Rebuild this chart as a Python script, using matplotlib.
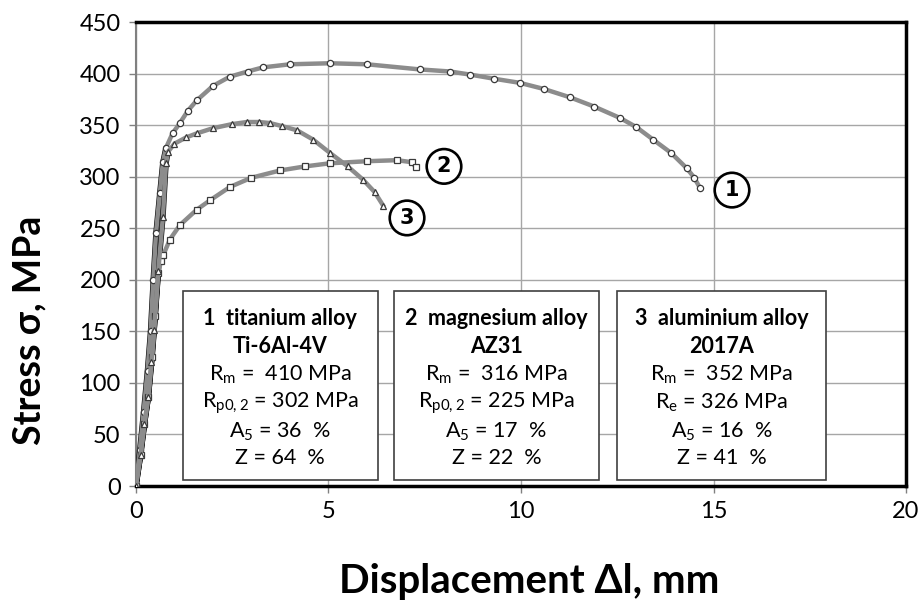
import matplotlib
matplotlib.use("Agg")
import matplotlib.pyplot as plt
from matplotlib.patches import Rectangle

plt.rcParams['font.family'] = ['Lato', 'DejaVu Sans']
plt.rcParams['mathtext.default'] = 'regular'

# --- data ---
ti_x = [0, 0.1, 0.2, 0.3, 0.38, 0.45, 0.52, 0.62, 0.7, 0.78, 0.95, 1.14, 1.35, 1.58, 2.0, 2.44,
        2.9, 3.3, 4.0, 5.04, 6.0, 7.38, 8.16, 8.68, 9.3, 9.97, 10.6, 11.27, 11.9, 12.57, 13.0,
        13.43, 13.9, 14.31, 14.5, 14.65]
ti_y = [0, 35, 72, 112, 150, 200, 245, 284, 314, 328, 342, 352, 364, 374, 388, 397,
        402, 406, 409, 410, 409, 404, 402, 399, 395, 391, 385, 377, 368, 357, 348,
        336, 323, 308, 299, 289]

mg_x = [0, 0.12, 0.22, 0.32, 0.42, 0.5, 0.58, 0.65, 0.71, 0.88, 1.14, 1.58, 1.92, 2.44, 3.0,
        3.74, 4.4, 5.04, 6.0, 6.78, 7.17, 7.27]
mg_y = [0, 30, 60, 86, 125, 165, 207, 218, 224, 239, 253, 268, 277, 290, 299,
        306, 310, 313, 315, 316, 314, 309]

al_x = [0, 0.12, 0.22, 0.32, 0.4, 0.47, 0.58, 0.7, 0.78, 0.83, 1.0, 1.3, 1.58, 2.0, 2.5, 2.88,
        3.2, 3.48, 3.8, 4.18, 4.6, 5.04, 5.5, 5.9, 6.2, 6.42]
al_y = [0, 30, 60, 86, 120, 151, 209, 261, 313, 324, 332, 338, 342, 347, 351, 353,
        353, 352, 349, 345, 336, 323, 310, 297, 285, 272]

ti_elastic_n = 10
mg_elastic_n = 7
al_elastic_n = 10

x_ticks = [0, 5, 10, 15, 20]
y_ticks = [0, 50, 100, 150, 200, 250, 300, 350, 400, 450]

curve_labels = ["1", "2", "3"]
curve_label_pos = [(15.48, 287), (8.0, 310), (7.04, 260)]

box_titles = [("1", "titanium alloy", "Ti-6Al-4V"),
              ("2", "magnesium alloy", "AZ31"),
              ("3", "aluminium alloy", "2017A")]
box_lines = [
    ["R$_{m}$ =  410 MPa", "R$_{p0,2}$ = 302 MPa", "A$_{5}$ = 36  %", "Z = 64  %"],
    ["R$_{m}$ =  316 MPa", "R$_{p0,2}$ = 225 MPa", "A$_{5}$ = 17  %", "Z = 22  %"],
    ["R$_{m}$ =  352 MPa", "R$_{e}$ = 326 MPa", "A$_{5}$ = 16  %", "Z = 41  %"],
]

# --- figure ---
fig = plt.figure(figsize=(9.23, 6.03), dpi=100)
ax = fig.add_axes([0.1473, 0.194, 0.8343, 0.7695])

ax.set_xlim(0, 20)
ax.set_ylim(0, 450)
ax.set_xticks(x_ticks)
ax.set_yticks(y_ticks)
ax.grid(True, color='#a6a6a6', lw=1.0, zorder=0)
ax.set_axisbelow(True)

# elastic (dense) parts
for xs, ys, n in [(ti_x, ti_y, ti_elastic_n), (al_x, al_y, al_elastic_n), (mg_x, mg_y, mg_elastic_n)]:
    ax.plot(xs[:n], ys[:n], color='black', lw=4, zorder=3, solid_capstyle='round')

mk = dict(mfc='white', mec='#3a3a3a', mew=0.9, ms=4.5, zorder=4)
ax.plot(ti_x, ti_y, color='#8c8c8c', lw=3.2, marker='o', **mk)
ax.plot(mg_x, mg_y, color='#8c8c8c', lw=3.2, marker='s', **mk)
ax.plot(al_x, al_y, color='#8c8c8c', lw=3.2, marker='^', **mk)

for lab, (px, py) in zip(curve_labels, curve_label_pos):
    ax.text(px, py, lab, ha='center', va='center', fontsize=15, fontweight='bold',
            family=['DejaVu Sans'],
            bbox=dict(boxstyle='circle,pad=0.35', fc='white', ec='black', lw=1.9), zorder=6)

# info boxes
boxes = [(0.061, 0.314), (0.335, 0.601), (0.625, 0.896)]
line_y = [0.362, 0.300, 0.239, 0.179, 0.116, 0.060]
for (x0, x1), (num, name, grade), lines in zip(boxes, box_titles, box_lines):
    ax.add_patch(Rectangle((x0, 0.013), x1 - x0, 0.407, transform=ax.transAxes,
                           fc='white', ec='#404040', lw=1.2, zorder=5))
    xc = (x0 + x1) / 2
    ax.text(xc, line_y[0], num + "  " + name, transform=ax.transAxes, ha='center', va='center',
            fontsize=15.5, fontweight='bold', zorder=6)
    ax.text(xc, line_y[1], grade, transform=ax.transAxes, ha='center', va='center',
            fontsize=15.5, fontweight='bold', zorder=6)
    for i, t in enumerate(lines):
        ax.text(xc, line_y[2 + i], t, transform=ax.transAxes, ha='center', va='center',
                fontsize=15.5, zorder=6)

# spines
for s in ['top', 'right', 'bottom']:
    ax.spines[s].set_color('black')
    ax.spines[s].set_linewidth(2.5)
ax.spines['left'].set_color('#808080')
ax.spines['left'].set_linewidth(1.5)
ax.tick_params(axis='both', length=5, color='#808080', width=1, labelsize=17, pad=6)

ax.set_xlabel("Displacement Δl, mm", fontsize=29, fontweight='bold')
ax.set_ylabel("Stress σ, MPa", fontsize=27, fontweight='bold')
ax.xaxis.set_label_coords(0.51, -0.165)
ax.yaxis.set_label_coords(-0.116, 0.336)

fig.savefig("out.png", dpi=100)
